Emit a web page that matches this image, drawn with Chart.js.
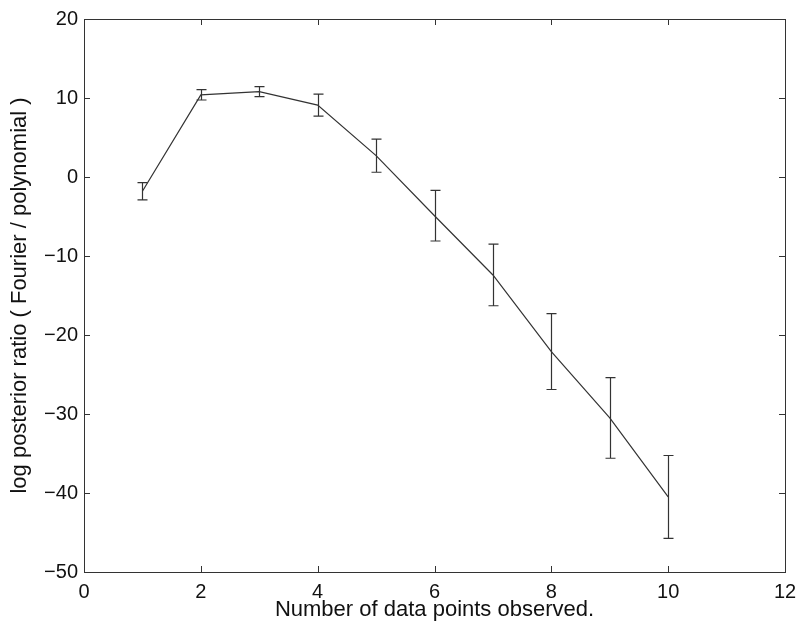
<!DOCTYPE html>
<html>
<head>
<meta charset="utf-8">
<script src="https://cdn.jsdelivr.net/npm/chart.js@4"></script>
<style>
  html, body { margin: 0; padding: 0; background: #fff; }
  #wrap { width: 796px; height: 624px; }
</style>
</head>
<body>
<div id="wrap"><canvas id="plot"></canvas></div>
<script>
// number of data points observed
var nPoints = [1, 2, 3, 4, 5, 6, 7, 8, 9, 10];
// log posterior ratio, mean and half-width of error bar
var logRatio = [-1.8, 10.4, 10.8, 9.1, 2.7, -4.9, -12.4, -22.1, -30.5, -40.5];
var errHalf = [1.1, 0.65, 0.63, 1.4, 2.1, 3.2, 3.9, 4.8, 5.1, 5.25];
var xTicks = [0, 2, 4, 6, 8, 10, 12];
var yTicks = [-50, -40, -30, -20, -10, 0, 10, 20];

var fontFam = '"Liberation Sans", Arial, sans-serif';
var ink = '#333333';

var errorBars = {
	id: 'errorBars',
	afterDatasetsDraw: function(chart) {
		var ctx = chart.ctx, xs = chart.scales.x, ys = chart.scales.y;
		ctx.save();
		ctx.strokeStyle = ink;
		ctx.lineWidth = 1.2;
		for (var i = 0; i < nPoints.length; i++) {
			var px = Math.round(xs.getPixelForValue(nPoints[i])) + 0.5;
			var top = ys.getPixelForValue(logRatio[i] + errHalf[i]);
			var bot = ys.getPixelForValue(logRatio[i] - errHalf[i]);
			ctx.beginPath();
			ctx.moveTo(px, top); ctx.lineTo(px, bot);
			ctx.moveTo(px - 5, top); ctx.lineTo(px + 5, top);
			ctx.moveTo(px - 5, bot); ctx.lineTo(px + 5, bot);
			ctx.stroke();
		}
		ctx.restore();
	}
};

// matlab style box with inward ticks on all four sides
var boxTicks = {
	id: 'boxTicks',
	afterDraw: function(chart) {
		var ctx = chart.ctx, a = chart.chartArea, xs = chart.scales.x, ys = chart.scales.y;
		var len = 6;
		ctx.save();
		ctx.strokeStyle = ink;
		ctx.lineWidth = 1;
		ctx.strokeRect(Math.round(a.left) + 0.5, Math.round(a.top) + 0.5,
			Math.round(a.right - a.left), Math.round(a.bottom - a.top));
		ctx.beginPath();
		xTicks.forEach(function(v) {
			var p = Math.round(xs.getPixelForValue(v)) + 0.5;
			ctx.moveTo(p, a.bottom); ctx.lineTo(p, a.bottom - len);
			ctx.moveTo(p, a.top); ctx.lineTo(p, a.top + len);
		});
		yTicks.forEach(function(v) {
			var p = Math.round(ys.getPixelForValue(v)) + 0.5;
			ctx.moveTo(a.left, p); ctx.lineTo(a.left + len, p);
			ctx.moveTo(a.right, p); ctx.lineTo(a.right - len, p);
		});
		ctx.stroke();
		ctx.restore();
	}
};

new Chart(document.getElementById('plot'), {
	type: 'line',
	data: {
		datasets: [{
			data: nPoints.map(function(x, i) { return { x: x, y: logRatio[i] }; }),
			borderColor: ink,
			borderWidth: 1.2,
			pointRadius: 0,
			tension: 0,
			fill: false
		}]
	},
	options: {
		responsive: true,
		maintainAspectRatio: false,
		animation: false,
		layout: { padding: { top: 19, right: 11, left: 0, bottom: 0 } },
		plugins: { legend: { display: false }, tooltip: { enabled: false } },
		scales: {
			x: {
				type: 'linear',
				min: 0, max: 12,
				afterBuildTicks: function(s) { s.ticks = xTicks.map(function(v) { return { value: v }; }); },
				afterFit: function(s) { s.height = 52; s.paddingLeft = 0; s.paddingRight = 0; },
				grid: { display: false, drawTicks: false },
				border: { display: false },
				ticks: { color: '#111', padding: 8, font: { family: fontFam, size: 20 }, maxRotation: 0 },
				title: { display: true, text: 'Number of data points observed.', color: '#111',
					font: { family: fontFam, size: 22 }, padding: { top: 0, bottom: 1 } }
			},
			y: {
				min: -50, max: 20,
				afterBuildTicks: function(s) { s.ticks = yTicks.map(function(v) { return { value: v }; }); },
				afterFit: function(s) { s.width = 84; s.paddingTop = 0; s.paddingBottom = 0; },
				grid: { display: false, drawTicks: false },
				border: { display: false },
				ticks: { color: '#111', padding: 6, font: { family: fontFam, size: 20 },
					callback: function(v) { return String(v).replace('-', '\u2212'); } },
				title: { display: true, text: 'log posterior ratio ( Fourier / polynomial )', color: '#111',
					font: { family: fontFam, size: 22 }, padding: { top: 7, bottom: 4 } }
			}
		}
	},
	plugins: [errorBars, boxTicks]
});
</script>
</body>
</html>
